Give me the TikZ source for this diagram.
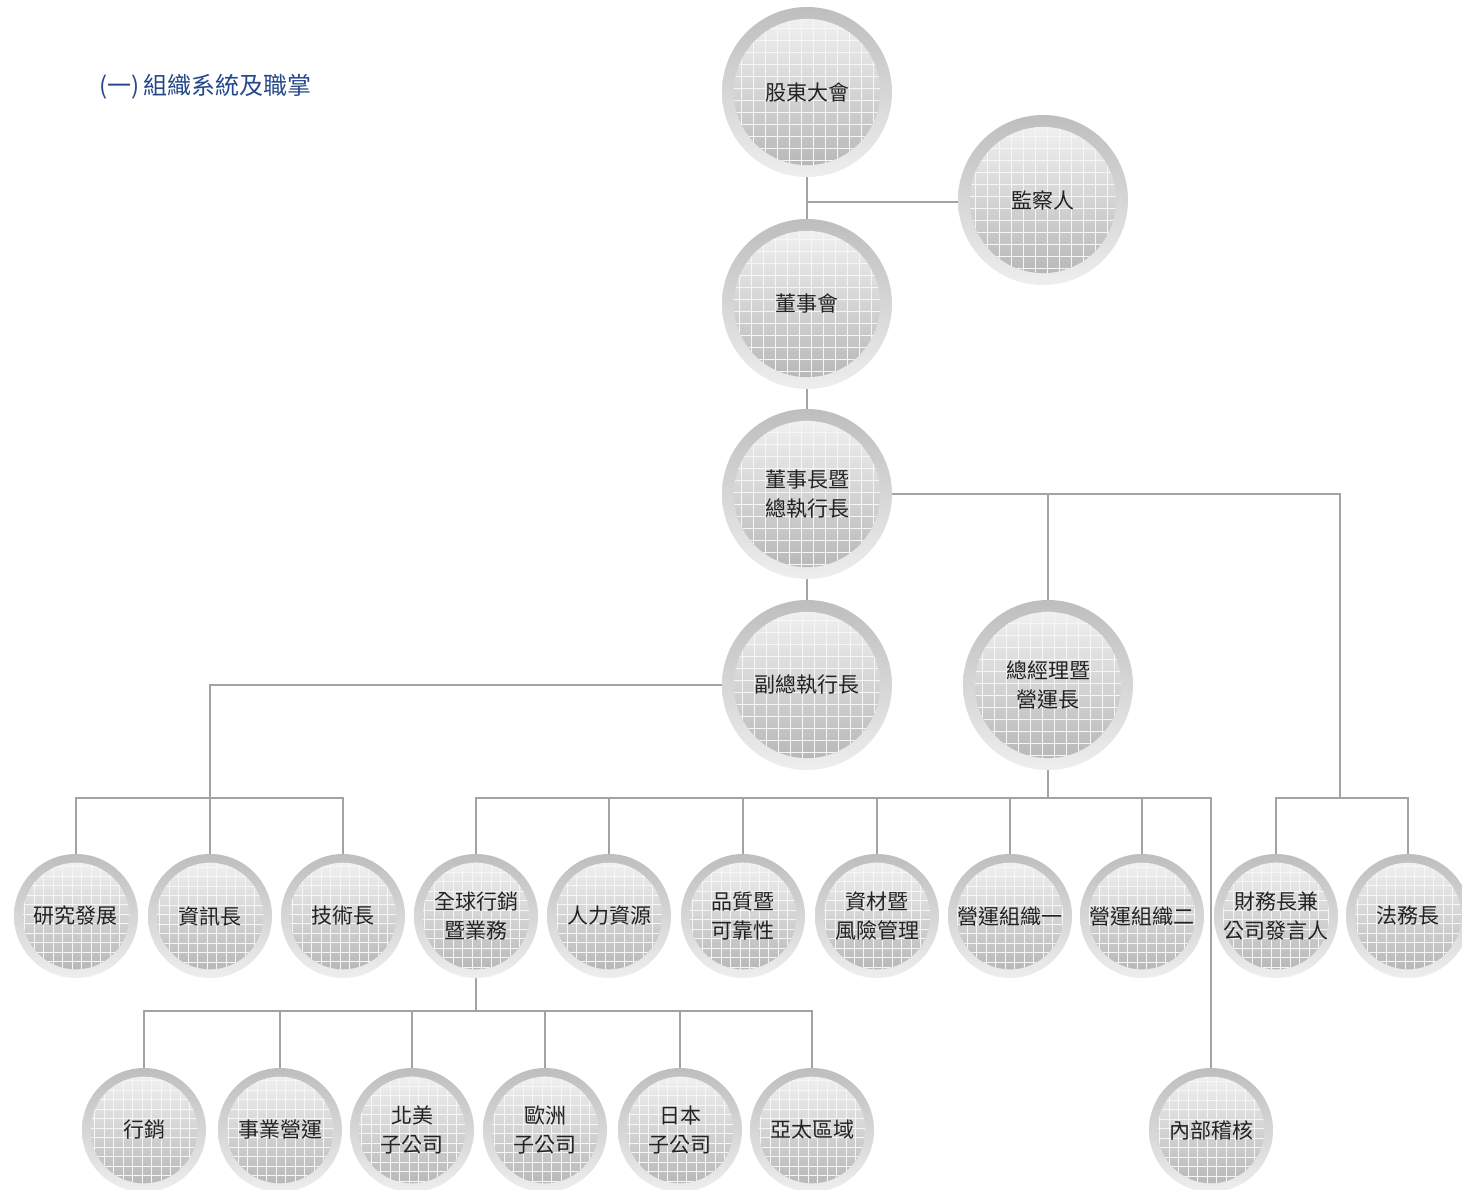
\documentclass[tikz,border=0pt]{standalone}
\usepackage{fontspec}
\newfontfamily\cjk{Noto Sans CJK TC}
\definecolor{ringtop}{HTML}{BEBEBE}
\definecolor{ringbot}{HTML}{EEEEEE}
\definecolor{inA}{HTML}{F0F0F0}
\definecolor{inB}{HTML}{D6D6D6}
\definecolor{inC}{HTML}{B8B8B8}
\definecolor{gridc}{HTML}{F6F6F6}
\definecolor{txtc}{HTML}{222222}
\definecolor{linec}{HTML}{A3A3A3}
\definecolor{titlec}{HTML}{25488A}
\pgfdeclarelayer{bg}
\pgfsetlayers{bg,main}
\tikzset{
  orgc/.style n args={2}{circle, inner sep=0pt, minimum size=#1, fill=white, align=center,
    text=txtc, font=\cjk\fontsize{21}{29.5}\selectfont,
    path picture={
      \shade[top color=ringtop, bottom color=ringbot]
        (path picture bounding box.south west) rectangle (path picture bounding box.north east);
      \shade[top color=inA, middle color=inB, bottom color=inC]
        (path picture bounding box.center) circle[radius=0.43*#1];
      \begin{scope}
        \clip (path picture bounding box.center) circle[radius=0.43*#1];
        \draw[gridc, line width=1pt, step=#2]
          (path picture bounding box.south west) grid (path picture bounding box.north east);
      \end{scope}
    }},
  bigc/.style={orgc={170pt}{12pt}},
  smallc/.style={orgc={124pt}{9.5pt}},
  conn/.style={draw=linec, line width=1.3pt},
}
\begin{document}
\begin{tikzpicture}[x=1pt,y=-1pt]
\useasboundingbox (0,0) rectangle (1462,1189);
\node[font=\cjk\fontsize{24}{28}\selectfont, text=titlec, anchor=west, inner sep=0pt] (title) at (99,87) {(一)\,組織系統及職掌};

% big circles
\node[bigc] (gm0) at (807,92) {股東大會};
\node[bigc] (sup) at (1043,200) {監察人};
\node[bigc] (bd) at (807,304) {董事會};
\node[bigc] (ceo) at (807,494) {董事長暨\\總執行長};
\node[bigc] (vp) at (807,685) {副總執行長};
\node[bigc] (coo) at (1048,685) {總經理暨\\營運長};

% middle row
\node[smallc] (rd) at (76,916) {研究發展};
\node[smallc] (cio) at (210,916) {資訊長};
\node[smallc] (cto) at (343,916) {技術長};
\node[smallc] (gms) at (476,916) {全球行銷\\暨業務};
\node[smallc] (hr) at (609,916) {人力資源};
\node[smallc] (qa) at (743,916) {品質暨\\可靠性};
\node[smallc] (mat) at (877,916) {資材暨\\風險管理};
\node[smallc] (op1) at (1010,916) {營運組織一};
\node[smallc] (op2) at (1142,916) {營運組織二};
\node[smallc] (cfo) at (1276,916) {財務長兼\\公司發言人};
\node[smallc] (legal) at (1408,916) {法務長};

% bottom row
\node[smallc] (mk) at (144,1130) {行銷};
\node[smallc] (ops) at (280,1130) {事業營運};
\node[smallc] (na) at (412,1130) {北美\\子公司};
\node[smallc] (eu) at (545,1130) {歐洲\\子公司};
\node[smallc] (jp) at (680,1130) {日本\\子公司};
\node[smallc] (ap) at (812,1130) {亞太區域};
\node[smallc] (ia) at (1211,1130) {內部稽核};

\coordinate (busA) at (0,798);
\coordinate (busB) at (0,1011);
\coordinate (rc) at (1340,798);
\coordinate (supy) at (0,202);

\begin{pgfonlayer}{bg}
\draw[conn] (gm0.south) -- (bd.north);
\draw[conn] (sup.west |- supy) -- (gm0.center |- supy);
\draw[conn] (bd.south) -- (ceo.north);
\draw[conn] (ceo.south) -- (vp.north);
\draw[conn] (ceo.east) -| (rc);
\draw[conn] (coo.north |- ceo.east) -- (coo.north);
\draw[conn] (vp.west) -| (cio.north);
\draw[conn] (rd.north) |- (busA -| cto.north) -- (cto.north);
\draw[conn] (coo.south) -- (coo.south |- busA);
\draw[conn] (gms.north) |- (busA -| ia.north) -- (ia.north);
\foreach \n in {hr,qa,mat,op1,op2} \draw[conn] (\n.north) -- (\n.north |- busA);
\draw[conn] (cfo.north) |- (busA -| legal.north) -- (legal.north);
\draw[conn] (gms.south) -- (gms.south |- busB);
\draw[conn] (mk.north) |- (busB -| ap.north) -- (ap.north);
\foreach \n in {ops,na,eu,jp} \draw[conn] (\n.north) -- (\n.north |- busB);
\end{pgfonlayer}
\end{tikzpicture}
\end{document}
